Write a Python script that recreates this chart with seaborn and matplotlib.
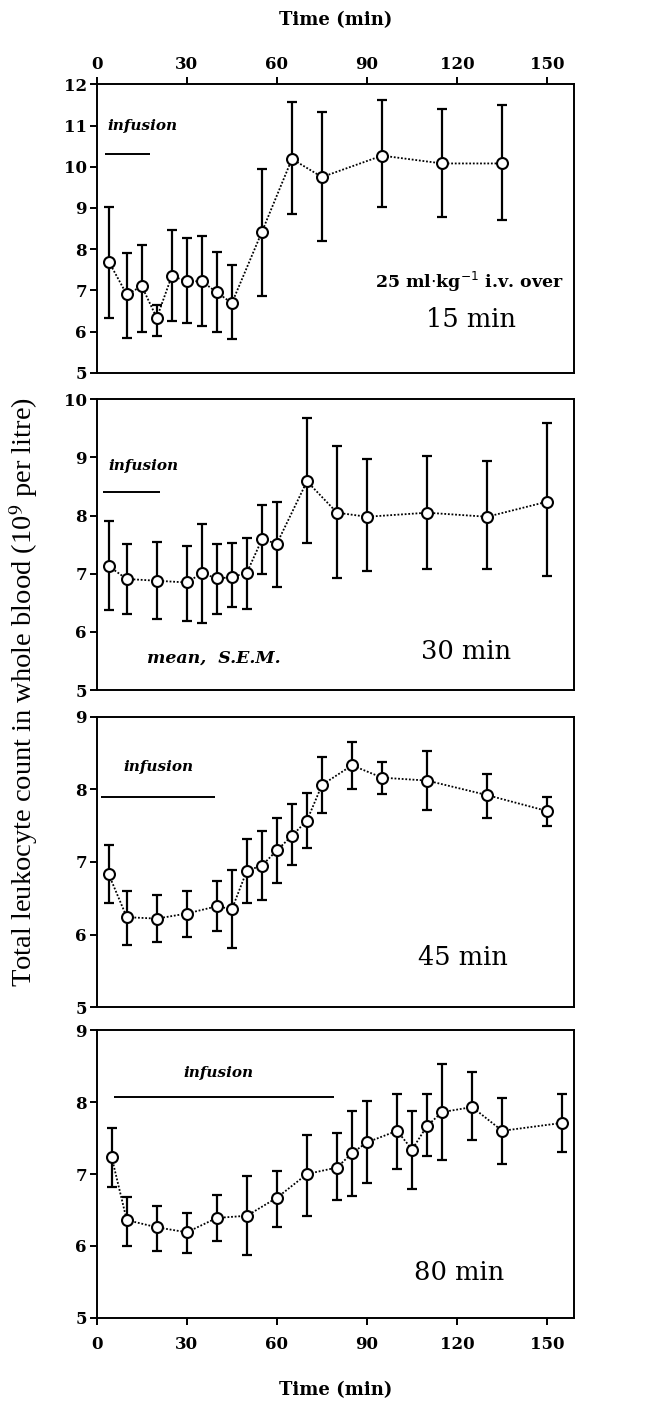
import numpy as np
import pandas as pd
import matplotlib
matplotlib.use('Agg')
import matplotlib.pyplot as plt
import seaborn as sns

# ─── data ─────────────────────────────────────────────────────────────────────
t15 = [4, 10, 15, 20, 25, 30, 35, 40, 45, 55, 65, 75, 95, 115, 135]
m15 = [7.70, 6.90, 7.10, 6.33, 7.35, 7.22, 7.22, 6.95, 6.69, 8.42, 10.19, 9.75, 10.27, 10.08, 10.08]
hi15 = [9.02, 7.90, 8.10, 6.65, 8.47, 8.27, 8.31, 7.92, 7.62, 9.94, 11.57, 11.34, 11.61, 11.39, 11.50]
lo15 = [6.33, 5.85, 6.00, 5.88, 6.25, 6.21, 6.13, 5.98, 5.81, 6.87, 8.85, 8.20, 9.02, 8.79, 8.71]

t30 = [4, 10, 20, 30, 35, 40, 45, 50, 55, 60, 70, 80, 90, 110, 130, 150]
m30 = [7.13, 6.91, 6.88, 6.85, 7.01, 6.92, 6.94, 7.02, 7.59, 7.52, 8.59, 8.05, 7.98, 8.05, 7.98, 8.24]
hi30 = [7.91, 7.51, 7.54, 7.48, 7.85, 7.51, 7.53, 7.61, 8.18, 8.23, 9.68, 9.19, 8.97, 9.03, 8.94, 9.59]
lo30 = [6.38, 6.30, 6.22, 6.19, 6.15, 6.31, 6.42, 6.39, 6.99, 6.77, 7.53, 6.92, 7.05, 7.08, 7.08, 6.96]

t45 = [4, 10, 20, 30, 40, 45, 50, 55, 60, 65, 70, 75, 85, 95, 110, 130, 150]
m45 = [6.83, 6.24, 6.22, 6.29, 6.39, 6.35, 6.88, 6.95, 7.16, 7.36, 7.57, 8.06, 8.33, 8.16, 8.12, 7.92, 7.70]
hi45 = [7.23, 6.60, 6.54, 6.60, 6.74, 6.89, 7.32, 7.42, 7.60, 7.80, 7.95, 8.45, 8.65, 8.38, 8.53, 8.21, 7.90]
lo45 = [6.44, 5.86, 5.90, 5.97, 6.05, 5.81, 6.43, 6.48, 6.71, 6.96, 7.19, 7.67, 8.01, 7.93, 7.71, 7.61, 7.50]

t80 = [5, 10, 20, 30, 40, 50, 60, 70, 80, 85, 90, 100, 105, 110, 115, 125, 135, 155]
m80 = [7.23, 6.36, 6.26, 6.19, 6.39, 6.42, 6.67, 7.00, 7.09, 7.29, 7.44, 7.60, 7.34, 7.67, 7.86, 7.93, 7.60, 7.71]
hi80 = [7.64, 6.68, 6.56, 6.46, 6.71, 6.97, 7.04, 7.54, 7.57, 7.87, 8.01, 8.11, 7.88, 8.11, 8.53, 8.42, 8.06, 8.11]
lo80 = [6.82, 6.00, 5.93, 5.90, 6.07, 5.88, 6.27, 6.42, 6.64, 6.70, 6.87, 7.07, 6.79, 7.25, 7.20, 7.47, 7.14, 7.30]

panel_names = ['15 min', '30 min', '45 min', '80 min']
ymax = [12, 10, 9, 9]
inf_start = [2.7, 2.2, 1.5, 5.7]
inf_end = [17.7, 21.2, 39.5, 78.9]
inf_y = [10.31, 8.40, 7.90, 8.07]
inf_text_x = [3.5, 4.0, 9.0, 29.0]
inf_text_y = [11.0, 8.85, 8.30, 8.40]
name_x = [124.5, 123.0, 122.0, 120.5]
name_y = [6.3, 5.66, 5.68, 5.63]
xticks = [0, 30, 60, 90, 120, 150]

panels = [(t15, m15, hi15, lo15), (t30, m30, hi30, lo30),
          (t45, m45, hi45, lo45), (t80, m80, hi80, lo80)]

# ─── style ────────────────────────────────────────────────────────────────────
sns.set_style('ticks')
plt.rcParams['font.family'] = ['DejaVu Serif']
for key in ['text.color', 'axes.labelcolor', 'xtick.color', 'ytick.color', 'axes.edgecolor']:
    plt.rcParams[key] = 'black'
plt.rcParams['axes.linewidth'] = 1.4
plt.rcParams['xtick.major.width'] = 1.4
plt.rcParams['ytick.major.width'] = 1.4
plt.rcParams['xtick.major.size'] = 5
plt.rcParams['ytick.major.size'] = 5

fig = plt.figure(figsize=(6.67, 14.06), dpi=100)
boxes = [(0.7349, 0.2051), (0.5092, 0.2068), (0.2836, 0.2067), (0.0626, 0.2048)]

for i, (t, m, hi, lo) in enumerate(panels):
    ax = fig.add_axes([0.145, boxes[i][0], 0.716, boxes[i][1]])
    df = pd.DataFrame({'t': t, 'm': m})
    err = [np.array(m) - np.array(lo), np.array(hi) - np.array(m)]
    ax.errorbar(t, m, yerr=err, fmt='none', ecolor='black', elinewidth=1.6,
                capsize=3.5, capthick=1.6, zorder=2)
    sns.lineplot(data=df, x='t', y='m', ax=ax, color='black', linestyle=(0, (1, 1)),
                 linewidth=1.3, zorder=3)
    sns.scatterplot(data=df, x='t', y='m', ax=ax, marker='o', s=62, facecolor='white',
                    edgecolor='black', linewidth=1.5, zorder=4)
    ax.hlines(inf_y[i], inf_start[i], inf_end[i], color='black', linewidth=1.4)
    ax.text(inf_text_x[i], inf_text_y[i], 'infusion', fontsize=11, fontweight='bold',
            fontstyle='italic', ha='left', va='center')
    ax.text(name_x[i], name_y[i], panel_names[i], fontsize=18.5, ha='center', va='center')

    ax.set_xlim(0, 159)
    ax.set_ylim(5, ymax[i])
    ax.set_yticks(range(5, ymax[i] + 1))
    ax.set_ylabel('')
    ax.set_xlabel('')
    for lab in ax.get_yticklabels():
        lab.set_fontweight('bold')
        lab.set_fontsize(12)
    ax.tick_params(axis='y', direction='out', pad=2)

    if i == 0:
        ax.xaxis.tick_top()
        ax.xaxis.set_label_position('top')
        ax.set_xticks(xticks)
        ax.set_xlabel('Time (min)', fontsize=13, fontweight='bold', labelpad=22)
        ax.text(124, 7.2, r'25 ml$\cdot$kg$^{-1}$ i.v. over', fontsize=12.5,
                fontweight='bold', ha='center', va='center')
    elif i == 3:
        ax.set_xticks(xticks)
        ax.tick_params(axis='x', pad=8)
        ax.set_xlabel('Time (min)', fontsize=13, fontweight='bold', labelpad=20)
    else:
        ax.set_xticks([])
    if i == 1:
        ax.text(39, 5.55, 'mean,  S.E.M.', fontsize=12.5, fontweight='bold',
                fontstyle='italic', ha='center', va='center')
    for lab in ax.get_xticklabels():
        lab.set_fontweight('bold')
        lab.set_fontsize(12)

fig.text(0.036, 0.508, 'Total leukocyte count in whole blood (10$^9$ per litre)',
         rotation=90, fontsize=20.5, ha='center', va='center',
         family=['Liberation Serif'], math_fontfamily='stix')

plt.savefig('out.png', dpi=100, facecolor='white')
plt.close()
